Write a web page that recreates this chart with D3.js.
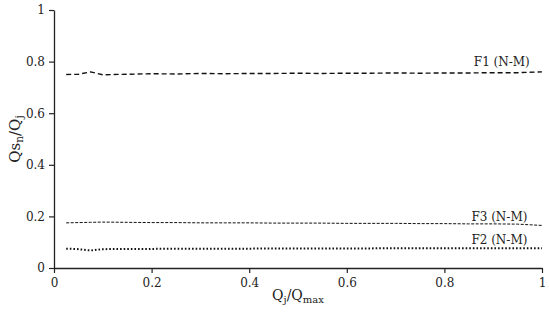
<!DOCTYPE html>
<html>
<head>
  <script src="https://d3js.org/d3.v7.min.js"></script>
  <style>
    body { margin: 0; background: #fff; }
    text { font-family: "DejaVu Serif", serif; fill: #222; }
  </style>
</head>
<body>
  <div id="chart"></div>
  <script>
    // x values (Qj/Qmax)
    const xs = [0.025, 0.05, 0.075, 0.1, 0.15, 0.2, 0.25, 0.3, 0.35, 0.4, 0.45, 0.5, 0.55, 0.6, 0.65, 0.7, 0.75, 0.8, 0.85, 0.9, 0.95, 1.0];
    const f1 = [0.750, 0.751, 0.760, 0.749, 0.751, 0.753, 0.752, 0.754, 0.753, 0.754, 0.754, 0.755, 0.754, 0.755, 0.755, 0.756, 0.755, 0.756, 0.756, 0.757, 0.757, 0.760];
    const f3 = [0.175, 0.176, 0.177, 0.178, 0.177, 0.176, 0.176, 0.175, 0.175, 0.175, 0.174, 0.174, 0.174, 0.173, 0.173, 0.173, 0.172, 0.172, 0.171, 0.171, 0.170, 0.165];
    const f2 = [0.075, 0.073, 0.068, 0.073, 0.074, 0.074, 0.075, 0.075, 0.075, 0.075, 0.076, 0.076, 0.076, 0.076, 0.076, 0.077, 0.077, 0.077, 0.077, 0.077, 0.077, 0.077];
    const seriesNames = ["F1 (N-M)", "F3 (N-M)", "F2 (N-M)"];
    const xTicks = [0, 0.2, 0.4, 0.6, 0.8, 1];
    const yTicks = [0, 0.2, 0.4, 0.6, 0.8, 1];

    const W = 550, H = 312;
    const margin = { top: 10, right: 8, bottom: 44, left: 54 };
    const width = W - margin.left - margin.right;
    const height = H - margin.top - margin.bottom;

    const svg = d3.select("#chart").append("svg")
      .attr("width", W).attr("height", H);
    const g = svg.append("g")
      .attr("transform", "translate(" + margin.left + "," + margin.top + ")");

    const x = d3.scaleLinear().domain([0, 1]).range([0, width]);
    const y = d3.scaleLinear().domain([0, 1]).range([height, 0]);

    // axes
    const xAxis = g.append("g")
      .attr("transform", "translate(0," + height + ")")
      .call(d3.axisBottom(x).tickValues(xTicks).tickFormat(d3.format("~g")).tickSize(5).tickSizeOuter(0));
    const yAxis = g.append("g")
      .call(d3.axisLeft(y).tickValues(yTicks).tickFormat(d3.format("~g")).tickSize(5).tickSizeOuter(0));
    [xAxis, yAxis].forEach(a => {
      a.select(".domain").attr("stroke", "#222").attr("stroke-width", 1.3);
      a.selectAll(".tick line").attr("stroke", "#222").attr("stroke-width", 1.2);
      a.selectAll(".tick text").style("font-size", "12px").attr("fill", "#222");
    });
    xAxis.selectAll(".tick text").attr("y", 10);
    yAxis.selectAll(".tick text").attr("x", -9);

    // lines
    const line = d3.line().x(d => x(d[0])).y(d => y(d[1]));
    const series = [
      { name: seriesNames[0], vals: f1, dash: "5,3", sw: 1.4, ly: 0.783, lx: 0.975 },
      { name: seriesNames[1], vals: f3, dash: "3,1.5", sw: 1.0, ly: 0.182, lx: 0.97 },
      { name: seriesNames[2], vals: f2, dash: "1.6,2", sw: 2.0, ly: 0.093, lx: 0.97 }
    ];
    series.forEach(s => {
      g.append("path")
        .datum(xs.map((v, i) => [v, s.vals[i]]))
        .attr("fill", "none")
        .attr("stroke", "#111")
        .attr("stroke-width", s.sw)
        .attr("stroke-dasharray", s.dash)
        .attr("d", line);
      g.append("text")
        .attr("x", x(s.lx))
        .attr("y", y(s.ly))
        .attr("text-anchor", "end")
        .style("font-size", "12px")
        .text(s.name);
    });

    // axis titles
    const yt = svg.append("text")
      .attr("transform", "translate(20," + (margin.top + height / 2) + ") rotate(-90)")
      .attr("text-anchor", "middle")
      .style("font-size", "15px");
    yt.append("tspan").text("Qs");
    yt.append("tspan").attr("dy", 3).style("font-size", "10.5px").text("n");
    yt.append("tspan").attr("dy", -3).text("/Q");
    yt.append("tspan").attr("dy", 3).style("font-size", "10.5px").text("j");

    const xt = svg.append("text")
      .attr("x", margin.left + width / 2)
      .attr("y", 300)
      .attr("text-anchor", "middle")
      .style("font-size", "14px");
    xt.append("tspan").text("Q");
    xt.append("tspan").attr("dy", 3).style("font-size", "10px").text("j");
    xt.append("tspan").attr("dy", -3).text("/Q");
    xt.append("tspan").attr("dy", 3).style("font-size", "10px").text("max");
  </script>
</body>
</html>
